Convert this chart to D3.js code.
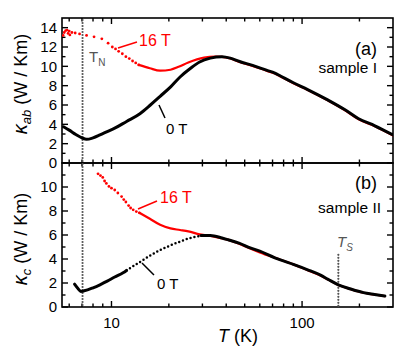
<!DOCTYPE html>
<html><head><meta charset="utf-8">
<script src="https://cdn.jsdelivr.net/npm/d3@7"></script>
<style>body{margin:0;background:#fff} text{font-family:"Liberation Sans",Arial,Helvetica,sans-serif}</style>
</head><body><svg id="c" width="415" height="350"></svg>
<script>
// ---- axes data ----
const xDomain = [5.5, 300];
const xMajorTicks = [10, 100];
const xMinorTicks = [6, 7, 8, 9, 20, 30, 40, 50, 60, 70, 80, 90, 200];
const aYDomain = [0, 15];
const aYMajor = [0, 2, 4, 6, 8, 10, 12, 14];
const aYMinor = [1, 3, 5, 7, 9, 11, 13];
const bYDomain = [0, 12];
const bYMajor = [0, 2, 4, 6, 8, 10];
const bYMinor = [1, 3, 5, 7, 9, 11];
const TN = 7.05, TS = 155;

// ---- panel (a), sample I ----
const a0T = [[5.6,3.75],[6.0,3.4],[6.5,2.95],[7.0,2.6],[7.4,2.45],[8.0,2.6],[8.7,2.9],[9.5,3.25],[10.4,3.6],[12,4.3],[14.1,5.1],[16,6.0],[18,6.9],[20.5,7.9],[22.9,8.9],[26,9.8],[29,10.45],[33,10.85],[38,11.0],[42,10.85],[47,10.5],[55,10.1],[65,9.6],[72,9.3],[77,9.0],[90,8.3],[107,7.6],[137,6.5],[168,5.5],[197,4.6],[241,3.85],[300,2.9]];
const a16Tdots = [[5.58,13.2],[5.65,13.5],[5.75,13.7],[5.85,13.75],[5.92,13.4],[6.0,13.65],[6.05,13.25],[6.2,13.5],[6.45,13.45],[6.8,13.35],[7.4,13.2],[8.1,13.05],[8.9,12.85],[9.6,12.4],[10.1,12.0],[10.5,11.8],[10.9,11.55],[11.4,11.3],[11.9,11.0],[12.4,10.8],[12.9,10.55],[13.4,10.35],[13.9,10.15]];
const a16Tline = [[13.9,10.15],[15.9,9.8],[18,9.55],[20.4,9.65],[22.5,9.95],[25.3,10.4],[30.6,10.9],[35,11.0],[38,10.98],[42,10.82],[47,10.45],[55,10.05],[65,9.55],[72,9.25],[77,8.95],[90,8.25],[107,7.55],[137,6.45],[168,5.45],[197,4.55],[241,3.8],[300,2.85]];

// ---- panel (b), sample II ----
const b0Tsolid1 = [[6.4,1.9],[6.7,1.5],[6.9,1.3],[7.2,1.35],[8.0,1.6],[8.7,1.85],[9.5,2.15],[10.4,2.5],[11.5,2.85],[12.0,3.05]];
const b0Tdotted = [[12.0,3.05],[13.0,3.4],[14.1,3.75],[16,4.3],[18,4.75],[20.5,5.15],[22.9,5.45],[25.3,5.7],[27.5,5.85],[29.5,5.95]];
const b0Tsolid2 = [[29.5,5.95],[33,5.95],[38,5.75],[41,5.6],[47,5.3],[53,4.95],[60,4.65],[72,4.1],[77,3.92],[90,3.55],[107,3.1],[125,2.65],[137,2.3],[155,1.85],[180,1.5],[210,1.2],[240,1.05],[272,0.92]];
const b16Tdots = [[8.5,11.1],[8.75,10.95],[9.0,10.8],[9.2,10.5],[9.4,10.3],[9.7,10.05],[10.0,9.9],[10.4,9.75],[10.8,9.5],[11.3,9.2],[11.6,8.95],[11.9,8.75],[12.3,8.45],[12.6,8.25],[13.0,8.1],[13.5,7.95],[14.0,7.85]];
const b16Tline = [[14.0,7.85],[15.9,7.35],[18,6.85],[20.4,6.55],[22.9,6.42],[25.3,6.3],[29,6.05],[35,5.85],[41.9,5.55],[47,5.25],[53,4.9],[60,4.55],[72,4.1],[77,3.94],[90,3.55],[107,3.07],[125,2.62],[137,2.28],[155,1.84],[180,1.49],[210,1.19],[240,1.04],[272,0.91]];

// ---- layout ----
const L = 62, R = 393, aTop = 18, mid = 163, bBot = 307;
const svg = d3.select("#c");
const x = d3.scaleLog().domain(xDomain).range([L, R]);
const ya = d3.scaleLinear().domain(aYDomain).range([mid, aTop]);
const yb = d3.scaleLinear().domain(bYDomain).range([bBot, mid]);

// ticks first (inward), drawn from the scales
const MAJ = 6, MIN = 3.5;
const tg = svg.append("g").attr("stroke","#000").attr("stroke-width",1.4);
function yTicks(scale, vals, len) {
  vals.forEach(v => {
    const yy = scale(v);
    tg.append("line").attr("x1",L).attr("x2",L+len).attr("y1",yy).attr("y2",yy);
    tg.append("line").attr("x1",R).attr("x2",R-len).attr("y1",yy).attr("y2",yy);
  });
}
function xTicks(vals, yy, dir, len) {
  vals.forEach(v => {
    const xx = x(v);
    tg.append("line").attr("x1",xx).attr("x2",xx).attr("y1",yy).attr("y2",yy+dir*len);
  });
}
yTicks(ya, aYMajor, MAJ); yTicks(ya, aYMinor, MIN);
yTicks(yb, bYMajor, MAJ); yTicks(yb, bYMinor, MIN);
[[aTop,1],[mid,-1],[mid,1],[bBot,-1]].forEach(([yy,dir]) => {
  xTicks(xMajorTicks, yy, dir, MAJ); xTicks(xMinorTicks, yy, dir, MIN);
});

// frames
[[aTop, mid], [mid, bBot]].forEach(([t, b]) => {
  svg.append("rect").attr("x",L).attr("y",t).attr("width",R-L).attr("height",b-t)
    .attr("fill","none").attr("stroke","#000").attr("stroke-width",1.6);
});

const defs = svg.append("defs");
defs.append("clipPath").attr("id","ca").append("rect").attr("x",L).attr("y",aTop).attr("width",R-L).attr("height",mid-aTop);
defs.append("clipPath").attr("id","cb").append("rect").attr("x",L).attr("y",mid).attr("width",R-L).attr("height",bBot-mid);

// vertical markers
svg.append("line").attr("x1",x(TN)).attr("x2",x(TN)).attr("y1",aTop+2).attr("y2",bBot)
  .attr("stroke","#555").attr("stroke-width",2.2).attr("stroke-linecap","round").attr("stroke-dasharray","0 3");
svg.append("line").attr("x1",x(TS)).attr("x2",x(TS)).attr("y1",yb(4.35)).attr("y2",bBot)
  .attr("stroke","#555").attr("stroke-width",2.2).attr("stroke-linecap","round").attr("stroke-dasharray","0 3");

function drawPanel(clip, y, parts) {
  const g = svg.append("g").attr("clip-path", `url(#${clip})`);
  const line = d3.line().x(d => x(d[0])).y(d => y(d[1])).curve(d3.curveMonotoneX);
  parts.forEach(p => {
    if (p.type === "dots") {
      g.selectAll(null).data(p.data).enter().append("circle")
        .attr("cx", d => x(d[0])).attr("cy", d => y(d[1])).attr("r", p.r).attr("fill", p.color);
    } else {
      const path = g.append("path").datum(p.data).attr("d", line).attr("fill","none")
        .attr("stroke", p.color).attr("stroke-width", p.w).attr("stroke-linecap","round");
      if (p.dash) path.attr("stroke-dasharray", p.dash);
    }
  });
}
drawPanel("ca", ya, [
  {type:"dots", data:a16Tdots, color:"#f00", r:1.4},
  {type:"line", data:a16Tline, color:"#f00", w:2.2},
  {type:"line", data:a0T, color:"#000", w:3}
]);
drawPanel("cb", yb, [
  {type:"dots", data:b16Tdots, color:"#f00", r:1.4},
  {type:"line", data:b16Tline, color:"#f00", w:2.2},
  {type:"line", data:b0Tsolid1, color:"#000", w:3},
  {type:"line", data:b0Tdotted, color:"#000", w:2.5, dash:"0 4"},
  {type:"line", data:b0Tsolid2, color:"#000", w:3}
]);

// tick labels
const lab = svg.append("g").attr("font-size",15).attr("fill","#000");
aYMajor.forEach(v => lab.append("text").attr("x",L-5).attr("y",ya(v)).attr("dy","0.36em").attr("text-anchor","end").text(v));
bYMajor.forEach(v => lab.append("text").attr("x",L-5).attr("y",yb(v)).attr("dy","0.36em").attr("text-anchor","end").text(v));
xMajorTicks.forEach(v => lab.append("text").attr("x",x(v)).attr("y",bBot+21).attr("text-anchor","middle").text(v));

// texts
function yTitle(cx, cy, sub) {
  const t = svg.append("text").attr("transform", `translate(${cx},${cy}) rotate(-90)`)
    .attr("text-anchor","middle").attr("font-size",18).attr("fill","#000");
  t.append("tspan").attr("font-style","italic").attr("font-size",20).text("κ");
  t.append("tspan").attr("font-style","italic").attr("font-size",13).attr("dy",4).text(sub);
  t.append("tspan").attr("dy",-4).text(" (W / Km)");
}
yTitle(27, 84, "ab");
yTitle(27, 239, "c");

const xt = svg.append("text").attr("x",238).attr("y",342).attr("text-anchor","middle").attr("font-size",18);
xt.append("tspan").attr("font-style","italic").text("T");
xt.append("tspan").text(" (K)");

function txt(xx, yy, s, size, color, anchor) {
  return svg.append("text").attr("x",xx).attr("y",yy).attr("font-size",size).attr("fill",color||"#000")
    .attr("text-anchor",anchor||"start").text(s);
}
txt(377, 55, "(a)", 18, "#000", "end");
txt(377, 73, "sample I", 15.5, "#000", "end");
txt(377, 189, "(b)", 18, "#000", "end");
txt(381, 213, "sample II", 15.5, "#000", "end");

// T_N
const tn = svg.append("text").attr("x",89).attr("y",62).attr("font-size",15).attr("fill","#555");
tn.append("tspan").text("T");
tn.append("tspan").attr("font-size",10).attr("dy",4).text("N");
// T_S
const ts = svg.append("text").attr("x",337).attr("y",247).attr("font-size",15).attr("fill","#555").attr("font-style","italic");
ts.append("tspan").text("T");
ts.append("tspan").attr("font-size",10).attr("dy",4).text("S");

// curve labels with leaders
function leader(x1,y1,x2,y2,color){
  svg.append("line").attr("x1",x1).attr("y1",y1).attr("x2",x2).attr("y2",y2)
    .attr("stroke",color).attr("stroke-width",1.5);
}
leader(118,48,137,42,"#f00"); txt(139,46,"16 T",16,"#f00");
leader(159,105,165,118,"#000"); txt(166,134,"0 T",15,"#000");
leader(138,209,157,201,"#f00"); txt(160,203,"16 T",16,"#f00");
leader(142,263,154,275,"#000"); txt(157,289,"0 T",15,"#000");
</script></body></html>
